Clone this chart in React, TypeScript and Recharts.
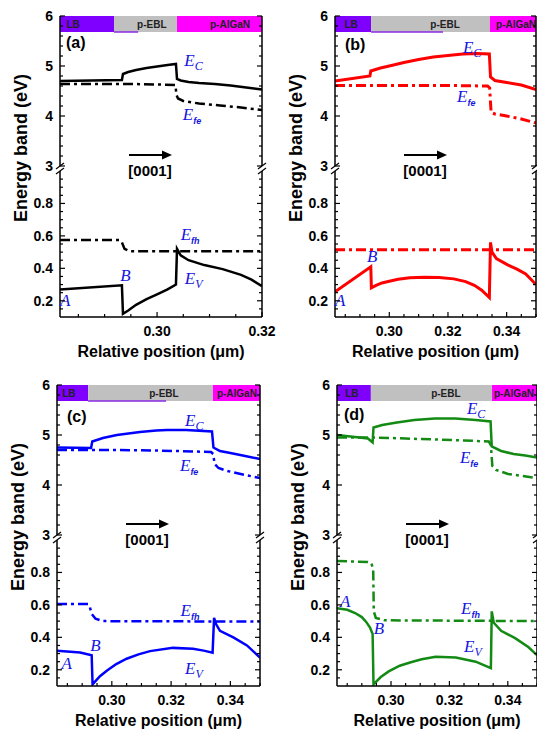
import React from "react";
import { LineChart, Line, XAxis, YAxis, ReferenceArea, ReferenceLine, ReferenceDot } from "recharts";

type Pt = [number, number];

// ---- (a) 10 nm EBL, black ----
const ecA: Pt[] = [[0.2815, 4.7], [0.2933, 4.72], [0.2935, 4.84], [0.2945, 4.88], [0.296, 4.92], [0.298, 4.96], [0.3, 4.99], [0.302, 5.02], [0.3036, 5.04], [0.3038, 4.74], [0.3045, 4.71], [0.306, 4.68], [0.308, 4.66], [0.311, 4.64], [0.314, 4.61], [0.317, 4.57], [0.32, 4.53]];
const efeA: Pt[] = [[0.2815, 4.64], [0.295, 4.64], [0.3, 4.63], [0.3035, 4.62], [0.3037, 4.42], [0.304, 4.35], [0.305, 4.3], [0.308, 4.25], [0.312, 4.21], [0.316, 4.17], [0.32, 4.12]];
const evA: Pt[] = [[0.2815, 0.27], [0.2933, 0.295], [0.2935, 0.12], [0.2945, 0.14], [0.296, 0.175], [0.298, 0.21], [0.3, 0.24], [0.302, 0.27], [0.3036, 0.3], [0.3038, 0.52], [0.3045, 0.48], [0.306, 0.45], [0.309, 0.42], [0.3125, 0.395], [0.316, 0.36], [0.318, 0.33], [0.32, 0.29]];
const efhA: Pt[] = [[0.2815, 0.575], [0.2928, 0.575], [0.2933, 0.56], [0.2938, 0.52], [0.2948, 0.505], [0.32, 0.505]];

// ---- (b) red ----
const ecB: Pt[] = [[0.2815, 4.7], [0.2934, 4.8], [0.2937, 4.9], [0.297, 4.96], [0.3, 5.0], [0.305, 5.07], [0.31, 5.13], [0.315, 5.18], [0.32, 5.21], [0.325, 5.24], [0.33, 5.25], [0.3341, 5.24], [0.3345, 4.78], [0.336, 4.71], [0.34, 4.67], [0.345, 4.62], [0.35, 4.53]];
const efeB: Pt[] = [[0.2815, 4.61], [0.32, 4.61], [0.3335, 4.6], [0.3342, 4.56], [0.3347, 4.07], [0.336, 4.04], [0.34, 4.0], [0.345, 3.94], [0.35, 3.86]];
const evB: Pt[] = [[0.2815, 0.255], [0.2937, 0.41], [0.2939, 0.28], [0.2955, 0.295], [0.2975, 0.31], [0.3, 0.32], [0.303, 0.333], [0.307, 0.342], [0.312, 0.345], [0.317, 0.343], [0.322, 0.335], [0.326, 0.318], [0.329, 0.295], [0.3315, 0.265], [0.3341, 0.22], [0.3345, 0.56], [0.335, 0.5], [0.3365, 0.46], [0.3405, 0.42], [0.3435, 0.395], [0.3465, 0.365], [0.35, 0.3]];
const efhB: Pt[] = [[0.2815, 0.515], [0.35, 0.515]];

// ---- (c) blue ----
const ecC: Pt[] = [[0.2815, 4.75], [0.293, 4.74], [0.2934, 4.87], [0.297, 4.94], [0.3017, 5.0], [0.3095, 5.06], [0.315, 5.09], [0.3186, 5.1], [0.325, 5.1], [0.3338, 5.07], [0.3343, 4.75], [0.3365, 4.68], [0.34, 4.64], [0.345, 4.58], [0.35, 4.52]];
const efeC: Pt[] = [[0.2815, 4.7], [0.3, 4.7], [0.315, 4.69], [0.3335, 4.66], [0.3342, 4.62], [0.3347, 4.42], [0.336, 4.34], [0.339, 4.28], [0.345, 4.2], [0.35, 4.14]];
const evC: Pt[] = [[0.2815, 0.318], [0.2893, 0.307], [0.2932, 0.29], [0.2935, 0.11], [0.296, 0.16], [0.2984, 0.195], [0.3015, 0.235], [0.305, 0.268], [0.309, 0.295], [0.3129, 0.315], [0.3206, 0.335], [0.3274, 0.33], [0.331, 0.318], [0.334, 0.305], [0.3345, 0.52], [0.3352, 0.48], [0.3365, 0.44], [0.341, 0.4], [0.3456, 0.35], [0.35, 0.275]];
const efhC: Pt[] = [[0.2815, 0.605], [0.292, 0.605], [0.2926, 0.585], [0.2932, 0.545], [0.2945, 0.515], [0.297, 0.5], [0.35, 0.497]];

// ---- (d) green ----
const ecD: Pt[] = [[0.2815, 5.0], [0.2921, 4.93], [0.2937, 4.85], [0.294, 5.15], [0.297, 5.2], [0.302, 5.25], [0.308, 5.3], [0.315, 5.33], [0.322, 5.33], [0.329, 5.3], [0.3341, 5.27], [0.3345, 4.77], [0.3377, 4.68], [0.342, 4.62], [0.346, 4.59], [0.35, 4.55]];
const efeD: Pt[] = [[0.2815, 4.95], [0.294, 4.95], [0.305, 4.93], [0.315, 4.91], [0.325, 4.89], [0.3335, 4.87], [0.3342, 4.8], [0.3347, 4.38], [0.336, 4.3], [0.3401, 4.22], [0.345, 4.18], [0.35, 4.14]];
const evD: Pt[] = [[0.2815, 0.58], [0.285, 0.57], [0.2877, 0.55], [0.29, 0.525], [0.2915, 0.495], [0.2928, 0.46], [0.2937, 0.42], [0.294, 0.11], [0.2965, 0.155], [0.2992, 0.19], [0.303, 0.225], [0.3065, 0.245], [0.3105, 0.265], [0.3153, 0.28], [0.3222, 0.275], [0.329, 0.25], [0.3342, 0.21], [0.3345, 0.56], [0.3352, 0.49], [0.3377, 0.44], [0.3425, 0.395], [0.347, 0.34], [0.35, 0.29]];
const efhD: Pt[] = [[0.2815, 0.87], [0.2921, 0.865], [0.2933, 0.855], [0.2939, 0.82], [0.2941, 0.56], [0.2948, 0.52], [0.2977, 0.505], [0.35, 0.5]];

// layer boundaries (LB | p-EBL | p-AlGaN)
const layersA = [0.2918, 0.3038];
const layersB = [0.2938, 0.3343];
const layersC = [0.292, 0.3341];
const layersD = [0.2931, 0.3346];
const layerNames = ["LB", "p-EBL", "p-AlGaN"];
const layerColors = ["#7f00ff", "#c0c0c0", "#ff00ff"];

// ticks
const xMajorA = [0.3, 0.32];
const xMinorA = [0.285, 0.29, 0.295, 0.305, 0.31, 0.315];
const xMajorB = [0.3, 0.32, 0.34];
const xMinorB = [0.285, 0.29, 0.295, 0.305, 0.31, 0.315, 0.325, 0.33, 0.335, 0.345, 0.35];
const yTopMajor = [3, 4, 5, 6];
const yTopMinor = [3.2, 3.4, 3.6, 3.8, 4.2, 4.4, 4.6, 4.8, 5.2, 5.4, 5.6, 5.8];
const yBotMajor = [0.2, 0.4, 0.6, 0.8];
const yBotMinor = [0.15, 0.25, 0.3, 0.35, 0.45, 0.5, 0.55, 0.65, 0.7, 0.75, 0.85, 0.9, 0.95];

const SANS = "'Liberation Sans', Arial, Helvetica, sans-serif";
const SERIF = "'Liberation Serif', 'Times New Roman', serif";
const NOTE = "#1515e0";

const YW = 50, RW = 6, RM = 18, PAD = 10, XH = 44, TM = 6;
const TOP_H = 150, GAP = 5, BOT_H = 146;
const BAR_LOW = 5.68;

type Note = { t: string; s?: string; sans?: boolean; x: number; y: number };

type Panel = {
  left: number; top: number; width: number;
  xDomain: [number, number]; xMajor: number[]; xMinor: number[];
  color: string; lw: number;
  ec: Pt[]; efe: Pt[]; ev: Pt[]; efh: Pt[];
  layers: number[]; labelX: number[]; underline: number[] | null;
  letter: string; letterPos: [number, number];
  notesTop: Note[]; notesBot: Note[];
};

const panels: Panel[] = [
  {
    left: 60, top: 16, width: 202, xDomain: [0.2815, 0.32], xMajor: xMajorA, xMinor: xMinorA,
    color: "#000000", lw: 2.5, ec: ecA, efe: efeA, ev: evA, efh: efhA,
    layers: layersA, labelX: [0.284, 0.299, 0.3139], underline: [0.2918, 0.2964],
    letter: "(a)", letterPos: [6, 32],
    notesTop: [{ t: "E", s: "C", x: 0.3052, y: 5.0 }, { t: "E", s: "fe", sans: true, x: 0.3049, y: 3.92 }],
    notesBot: [{ t: "E", s: "fh", sans: true, x: 0.3045, y: 0.575 }, { t: "E", s: "V", x: 0.3053, y: 0.305 }, { t: "A", x: 0.2815, y: 0.165 }, { t: "B", x: 0.293, y: 0.32 }],
  },
  {
    left: 335, top: 16, width: 201, xDomain: [0.2815, 0.35], xMajor: xMajorB, xMinor: xMinorB,
    color: "#ff0000", lw: 3, ec: ecB, efe: efeB, ev: evB, efh: efhB,
    layers: layersB, labelX: [0.287, 0.319, 0.3432], underline: [0.2938, 0.3183],
    letter: "(b)", letterPos: [10, 34],
    notesTop: [{ t: "E", s: "C", x: 0.3251, y: 5.27 }, { t: "E", s: "fe", sans: true, x: 0.3231, y: 4.29 }],
    notesBot: [{ t: "A", x: 0.2815, y: 0.165 }, { t: "B", x: 0.2924, y: 0.44 }],
  },
  {
    left: 57, top: 385, width: 203, xDomain: [0.2815, 0.35], xMajor: xMajorB, xMinor: xMinorB,
    color: "#0000ff", lw: 2.5, ec: ecC, efe: efeC, ev: evC, efh: efhC,
    layers: layersC, labelX: [0.2855, 0.3176, 0.3422], underline: [0.292, 0.3183],
    letter: "(c)", letterPos: [10, 37],
    notesTop: [{ t: "E", s: "C", x: 0.3247, y: 5.19 }, { t: "E", s: "fe", sans: true, x: 0.323, y: 4.28 }],
    notesBot: [{ t: "E", s: "fh", sans: true, x: 0.3232, y: 0.534 }, { t: "E", s: "V", x: 0.3247, y: 0.175 }, { t: "A", x: 0.283, y: 0.205 }, { t: "B", x: 0.2927, y: 0.318 }],
  },
  {
    left: 337, top: 385, width: 200, xDomain: [0.2815, 0.35], xMajor: xMajorB, xMinor: xMinorB,
    color: "#138a13", lw: 2.5, ec: ecD, efe: efeD, ev: evD, efh: efhD,
    layers: layersD, labelX: [0.2866, 0.3188, 0.3421], underline: null,
    letter: "(d)", letterPos: [7, 35],
    notesTop: [{ t: "E", s: "C", x: 0.326, y: 5.43 }, { t: "E", s: "fe", sans: true, x: 0.3236, y: 4.44 }],
    notesBot: [{ t: "E", s: "fh", sans: true, x: 0.324, y: 0.545 }, { t: "E", s: "V", x: 0.325, y: 0.31 }, { t: "A", x: 0.2825, y: 0.59 }, { t: "B", x: 0.2941, y: 0.42 }],
  },
];

const rows = (pts: Pt[]) => pts.map(([x, y]) => ({ x, y }));
const isMajor = (v: number, majors: number[]) => majors.some((m) => Math.abs(m - v) < 1e-9);
const sortNum = (a: number[]) => [...a].sort((p, q) => p - q);

function leftTick(majors: number[], fmt: (v: number) => string) {
  return (props: any) => {
    const { x, y, payload } = props;
    const major = isMajor(payload.value, majors);
    const ax = x + TM;
    return (
      <g>
        <line x1={ax} x2={ax + (major ? 5 : 3)} y1={y} y2={y} stroke="#000" strokeWidth={1.2} />
        {major && (
          <text x={x - 1} y={y + 5} textAnchor="end" fontFamily={SANS} fontWeight="bold" fontSize={14} fill="#000">
            {fmt(payload.value)}
          </text>
        )}
      </g>
    );
  };
}

function rightTick(majors: number[]) {
  return (props: any) => {
    const { x, y, payload } = props;
    const ax = x - TM;
    return <line x1={ax} x2={ax - (isMajor(payload.value, majors) ? 5 : 3)} y1={y} y2={y} stroke="#000" strokeWidth={1.2} />;
  };
}

function bottomTick(majors: number[]) {
  return (props: any) => {
    const { x, y, payload } = props;
    const major = isMajor(payload.value, majors);
    const ay = y - TM;
    return (
      <g>
        <line x1={x} x2={x} y1={ay} y2={ay - (major ? 5 : 3)} stroke="#000" strokeWidth={1.2} />
        {major && (
          <text x={x} y={ay + 19} textAnchor="middle" fontFamily={SANS} fontWeight="bold" fontSize={14} fill="#000">
            {payload.value.toFixed(2)}
          </text>
        )}
      </g>
    );
  };
}

function noteShape(n: Note) {
  return (props: any) => (
    <text x={props.cx} y={props.cy} fill={NOTE} fontFamily={SERIF} fontStyle="italic" fontSize={17}>
      {n.t}
      {n.s && (
        <tspan dy={4} fontSize={n.sans ? 9 : 12} fontFamily={n.sans ? SANS : SERIF} fontWeight={n.sans ? "bold" : "normal"}>
          {n.s}
        </tspan>
      )}
    </text>
  );
}

function layerLabel(text: string) {
  return (props: any) => (
    <text x={props.cx} y={props.cy + 4} textAnchor="middle" fontFamily={SANS} fontWeight="bold" fontSize={10} fill="#222">
      {text}
    </text>
  );
}

function Segment({ p, part }: { p: Panel; part: "top" | "bot" }) {
  const isTop = part === "top";
  const plotH = isTop ? TOP_H : BOT_H;
  const width = YW + p.width + RW + RM;
  const height = PAD + plotH + (isTop ? PAD : XH);
  const left = p.left - YW;
  const top = isTop ? p.top - PAD : p.top + TOP_H + GAP - PAD;
  const yDomain: [number, number] = isTop ? [3, 6] : [0.1, 1.0];
  const yMajor = isTop ? yTopMajor : yBotMajor;
  const yTicks = sortNum(isTop ? [...yTopMajor, ...yTopMinor] : [...yBotMajor, ...yBotMinor]);
  const fmt = isTop ? (v: number) => String(v) : (v: number) => v.toFixed(1);
  const solid = isTop ? p.ec : p.ev;
  const dashed = isTop ? p.efe : p.efh;
  const notes = isTop ? p.notesTop : p.notesBot;
  const bounds = [p.xDomain[0], ...p.layers, p.xDomain[1]];
  const axisLine = { stroke: "#000", strokeWidth: 1.5 };

  return (
    <div style={{ position: "absolute", left, top }}>
      <LineChart width={width} height={height} margin={{ top: PAD, right: RM, bottom: isTop ? PAD : 0, left: 0 }}>
        <XAxis
          type="number"
          dataKey="x"
          domain={p.xDomain}
          allowDataOverflow
          hide={isTop}
          ticks={sortNum([...p.xMajor, ...p.xMinor])}
          interval={0}
          tickSize={0}
          tickMargin={TM}
          tickLine={false}
          tick={bottomTick(p.xMajor)}
          axisLine={axisLine}
          height={XH}
          label={{ value: "Relative position (μm)", position: "insideBottom", offset: 4, fontSize: 16, fontWeight: "bold", fontFamily: SANS, fill: "#000" }}
        />
        <YAxis
          yAxisId="l"
          type="number"
          domain={yDomain}
          allowDataOverflow
          ticks={yTicks}
          interval={0}
          width={YW}
          tickSize={0}
          tickMargin={TM}
          tickLine={false}
          tick={leftTick(yMajor, fmt)}
          axisLine={axisLine}
        />
        <YAxis
          yAxisId="r"
          orientation="right"
          type="number"
          domain={yDomain}
          allowDataOverflow
          ticks={yTicks}
          interval={0}
          width={RW}
          tickSize={0}
          tickMargin={TM}
          tickLine={false}
          tick={rightTick(yMajor)}
          axisLine={axisLine}
        />
        {isTop &&
          layerNames.map((name, i) => (
            <ReferenceArea key={name} yAxisId="l" x1={bounds[i]} x2={bounds[i + 1]} y1={BAR_LOW} y2={6} fill={layerColors[i]} fillOpacity={1} stroke="none" ifOverflow="visible" />
          ))}
        {isTop && p.underline && (
          <ReferenceLine yAxisId="l" segment={[{ x: p.underline[0], y: BAR_LOW }, { x: p.underline[1], y: BAR_LOW }]} stroke="#8a2be2" strokeWidth={1.5} ifOverflow="visible" />
        )}
        {isTop &&
          layerNames.map((name, i) => (
            <ReferenceDot key={"lbl" + name} yAxisId="l" x={p.labelX[i]} y={(BAR_LOW + 6) / 2} r={1} ifOverflow="visible" shape={layerLabel(name)} />
          ))}
        <Line yAxisId="l" data={rows(dashed)} dataKey="y" type="linear" stroke={p.color} strokeWidth={p.lw} strokeDasharray="10 4 3 4" dot={false} activeDot={false} isAnimationActive={false} />
        <Line yAxisId="l" data={rows(solid)} dataKey="y" type="linear" stroke={p.color} strokeWidth={p.lw} dot={false} activeDot={false} isAnimationActive={false} />
        {notes.map((n, i) => (
          <ReferenceDot key={"n" + i} yAxisId="l" x={n.x} y={n.y} r={1} ifOverflow="visible" shape={noteShape(n)} />
        ))}
      </LineChart>
    </div>
  );
}

function Overlay() {
  return (
    <svg width={537} height={729} style={{ position: "absolute", left: 0, top: 0, pointerEvents: "none" }}>
      {panels.map((p, i) => {
        const L = p.left, T = p.top;
        const breaks: JSX.Element[] = [];
        [L, L + p.width].forEach((ax, j) =>
          [T + TOP_H, T + TOP_H + GAP].forEach((yy, k) =>
            breaks.push(<line key={`b${j}${k}`} x1={ax - 4} y1={yy + 3} x2={ax + 4} y2={yy - 3} stroke="#000" strokeWidth={1.2} />)
          )
        );
        return (
          <g key={i}>
            {breaks}
            <text x={L - 33} y={T + 132} transform={`rotate(-90 ${L - 33} ${T + 132})`} textAnchor="middle" fontFamily={SANS} fontWeight="bold" fontSize={18} fill="#000">
              Energy band (eV)
            </text>
            <text x={L + p.letterPos[0]} y={T + p.letterPos[1]} fontFamily={SANS} fontWeight="bold" fontSize={16} fill="#000">
              {p.letter}
            </text>
            <line x1={L + 69} y1={T + 139} x2={L + 104} y2={T + 139} stroke="#000" strokeWidth={2} />
            <polygon points={`${L + 102},${T + 134.5} ${L + 112},${T + 139} ${L + 102},${T + 143.5}`} fill="#000" />
            <text x={L + 90} y={T + 160} textAnchor="middle" fontFamily={SANS} fontWeight="bold" fontSize={15} fill="#000">
              [0001]
            </text>
          </g>
        );
      })}
    </svg>
  );
}

export default function App() {
  return (
    <div style={{ position: "absolute", left: 0, top: 0, width: 537, height: 729, background: "#fff", overflow: "hidden" }}>
      {panels.map((p, i) => (
        <React.Fragment key={i}>
          <Segment p={p} part="top" />
          <Segment p={p} part="bot" />
        </React.Fragment>
      ))}
      <Overlay />
    </div>
  );
}
